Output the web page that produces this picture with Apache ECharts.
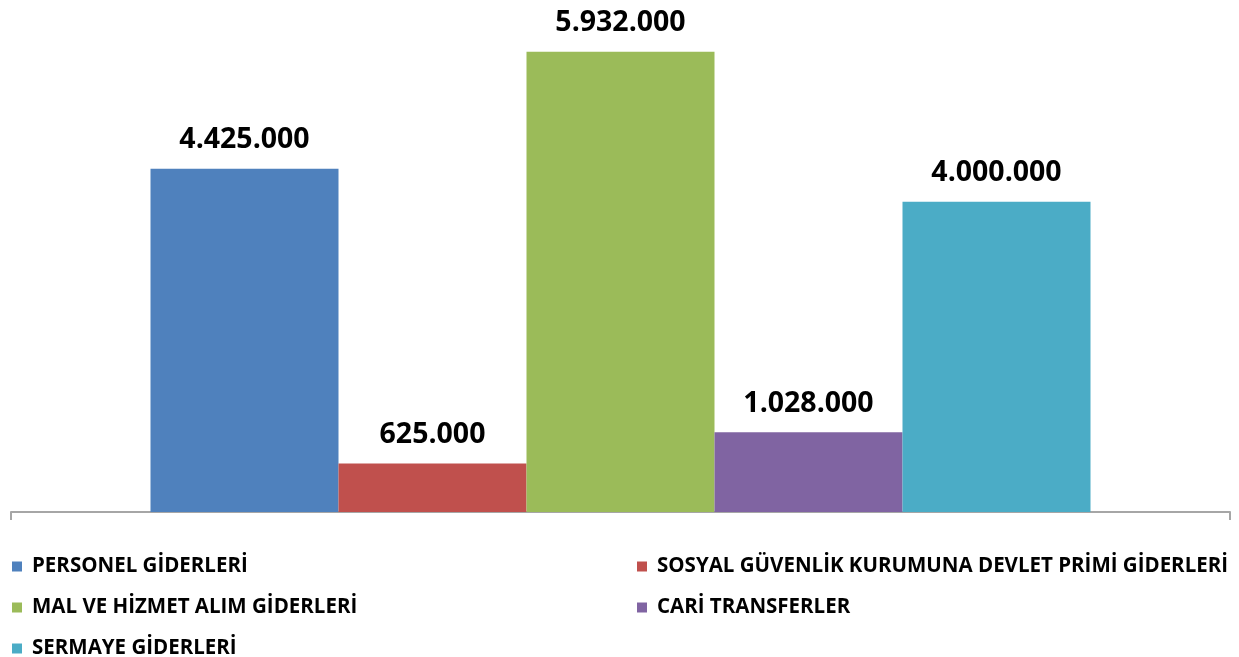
<!DOCTYPE html>
<html>
<head>
    <meta charset="utf-8">
    <title>Giderler</title>
    <script src="https://cdn.jsdelivr.net/npm/echarts@6/dist/echarts.min.js"></script>
</head>
<body style="margin:0">
    <div id="main" style="width:1239px;height:657px;background:#fff"></div>
    <script type="text/javascript">
        // veriler
        var seriesNames = [
            'PERSONEL GİDERLERİ',
            'SOSYAL GÜVENLİK KURUMUNA DEVLET PRİMİ GİDERLERİ',
            'MAL VE HİZMET ALIM GİDERLERİ',
            'CARİ TRANSFERLER',
            'SERMAYE GİDERLERİ'
        ];
        var seriesValues = [4425000, 625000, 5932000, 1028000, 4000000];
        var seriesColors = ['#4f81bd', '#c0504d', '#9bbb59', '#8064a2', '#4bacc6'];
        var categories = [''];

        var fontFam = '"Open Sans", "Noto Sans", sans-serif';

        function fmt(v) {
            return String(v).replace(/\B(?=(\d{3})+(?!\d))/g, '.');
        }

        var series = [];
        for (var i = 0; i < seriesNames.length; i++) {
            series.push({
                name: seriesNames[i],
                type: 'bar',
                data: [seriesValues[i]],
                barWidth: 188,
                barGap: '0%',
                itemStyle: { color: seriesColors[i] },
                label: {
                    show: true,
                    position: 'top',
                    distance: 14,
                    color: '#000',
                    fontFamily: fontFam,
                    fontWeight: 'bold',
                    fontSize: 28.5,
                    formatter: function (p) { return fmt(p.value); }
                }
            });
        }

        var legendText = {
            color: '#000',
            fontFamily: fontFam,
            fontWeight: 'bold',
            fontSize: 20.5,
            padding: [0, 0, 0, 5]
        };

        var myChart = echarts.init(document.getElementById('main'));
        myChart.setOption({
            animation: false,
            grid: { left: 11, right: 9, top: 0, bottom: 145 },
            xAxis: {
                type: 'category',
                data: categories,
                axisLine: { lineStyle: { color: '#a6a6a6', width: 2 } },
                axisTick: { show: true, length: 8, lineStyle: { color: '#a6a6a6', width: 2 } },
                axisLabel: { show: false }
            },
            yAxis: {
                type: 'value',
                min: 0,
                max: 6600000,
                show: false,
                splitLine: { show: false }
            },
            legend: [
                {
                    orient: 'vertical',
                    left: 12,
                    top: 556,
                    height: 120,
                    padding: 0,
                    itemWidth: 10,
                    itemHeight: 10,
                    itemGap: 20,
                    icon: 'rect',
                    data: [seriesNames[0], seriesNames[2], seriesNames[4]],
                    textStyle: legendText
                },
                {
                    orient: 'vertical',
                    left: 637,
                    top: 556,
                    height: 120,
                    padding: 0,
                    itemWidth: 10,
                    itemHeight: 10,
                    itemGap: 20,
                    icon: 'rect',
                    data: [seriesNames[1], seriesNames[3]],
                    textStyle: legendText
                }
            ],
            series: series
        });
    </script>
</body>
</html>
